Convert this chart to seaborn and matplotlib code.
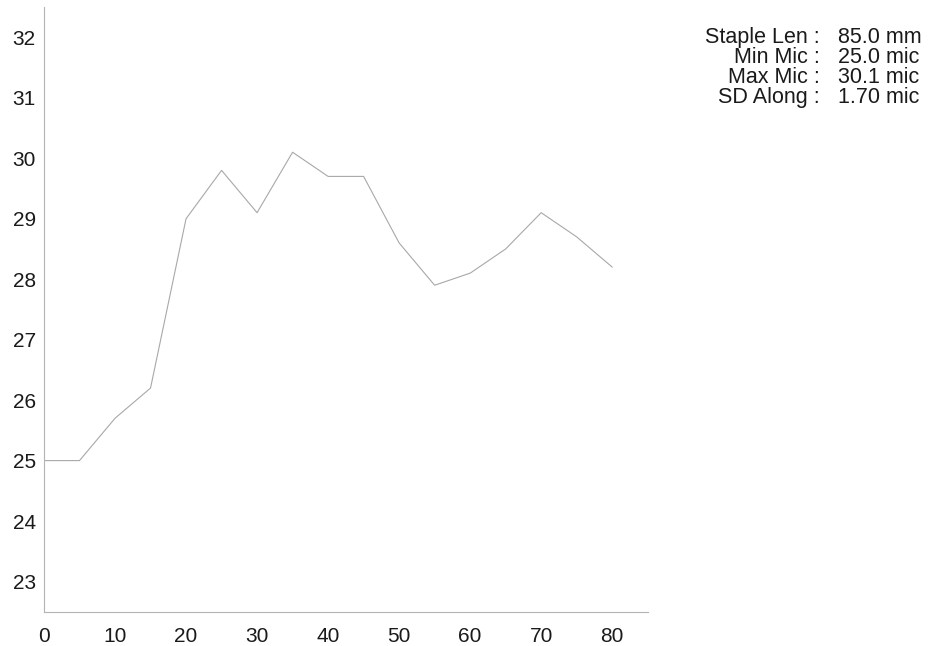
import pandas as pd
import matplotlib
matplotlib.use('Agg')
import matplotlib.pyplot as plt
import seaborn as sns

# position along fibre (mm) and micron readings
positions = [0, 5, 10, 15, 20, 25, 30, 35, 40, 45, 50, 55, 60, 65, 70, 75, 80]
micron = [25.0, 25.0, 25.7, 26.2, 29.0, 29.8, 29.1, 30.1, 29.7, 29.7,
          28.6, 27.9, 28.1, 28.5, 29.1, 28.7, 28.2]

stat_labels = ['Staple Len :', 'Min Mic :', 'Max Mic :', 'SD Along :']
stat_values = ['85.0 mm', '25.0 mic', '30.1 mic', '1.70 mic']

x_ticks = [0, 10, 20, 30, 40, 50, 60, 70, 80]
y_ticks = [23, 24, 25, 26, 27, 28, 29, 30, 31, 32]


def main():
    sns.set_style('white')
    plt.rcParams['font.family'] = ['Liberation Sans', 'DejaVu Sans']

    data = pd.DataFrame({'pos': positions, 'mic': micron})

    fig = plt.figure(figsize=(9.36, 6.46), dpi=100)
    ax = fig.add_axes([0.047, 0.053, 0.645, 0.936])
    sns.lineplot(data=data, x='pos', y='mic', ax=ax,
                 color='#a8a8a8', linewidth=0.8)

    ax.set_xlim(0, 85)
    ax.set_ylim(22.5, 32.5)
    ax.set_xticks(x_ticks)
    ax.set_yticks(y_ticks)
    ax.set_xlabel('')
    ax.set_ylabel('')
    ax.tick_params(axis='both', length=0, labelsize=15, colors='#1a1a1a')
    ax.tick_params(axis='x', pad=11)
    ax.tick_params(axis='y', pad=6)

    for side in ['top', 'right']:
        ax.spines[side].set_visible(False)
    for side in ['left', 'bottom']:
        ax.spines[side].set_color('#b4b4b4')
        ax.spines[side].set_linewidth(0.8)

    # stats block at top right, one text per column
    top = 1 - 27 / 646
    fig.text(820 / 936, top, '\n'.join(stat_labels), ha='right', va='top',
             multialignment='right', fontsize=15.5, linespacing=0.93,
             color='#1a1a1a')
    fig.text(838 / 936, top, '\n'.join(stat_values), ha='left', va='top',
             multialignment='left', fontsize=15.5, linespacing=0.93,
             color='#1a1a1a')

    fig.savefig('out.png', dpi=100, facecolor='white')


if __name__ == "__main__":
    main()
